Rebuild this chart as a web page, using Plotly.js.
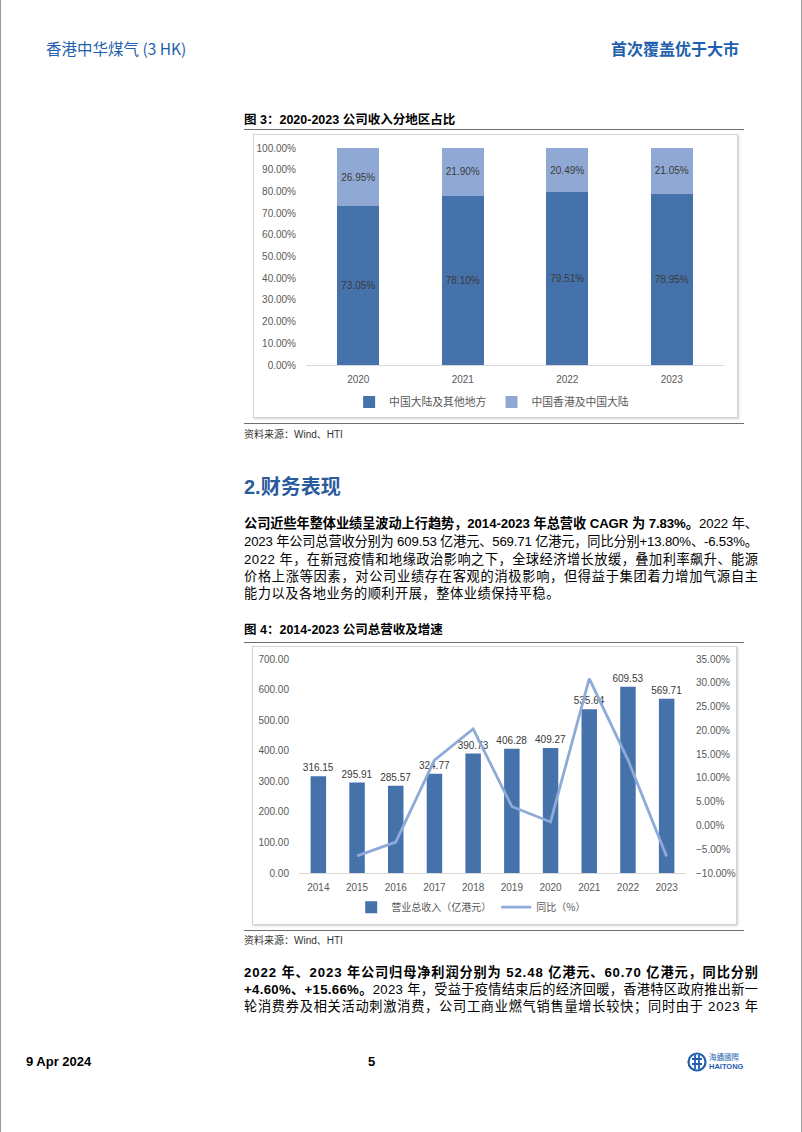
<!DOCTYPE html>
<html><head><meta charset="utf-8">
<script src="https://cdn.plot.ly/plotly-3.0.1.min.js"></script>
<style>
html,body{margin:0;padding:0;background:#fff;}
#page{position:relative;width:802px;height:1132px;overflow:hidden;box-sizing:border-box;border-left:1px solid #9a9a9a;border-right:1px solid #9a9a9a;background:#fff;
  font-family:"Liberation Sans","Noto Sans CJK SC",sans-serif;color:#000;}
.abs{position:absolute;white-space:nowrap;}
.rule{position:absolute;height:1px;background:#6e6e6e;}
.frame{position:absolute;border:1px solid #d4d4d4;box-shadow:1px 1px 2px #cfcfcf;box-sizing:border-box;pointer-events:none;}
.ln{position:absolute;left:243px;white-space:nowrap;font-size:13.2px;line-height:14px;height:14px;}
.ln b{font-weight:bold;}
.cap{font-size:12.5px;font-weight:bold;line-height:14px;}
.src{font-size:10px;line-height:12px;color:#333;}
</style></head>
<body>
<div id="page">
  <div class="abs" style="left:45px;top:40px;font-size:15.5px;line-height:16px;color:#1f5fae;font-family:'Noto Sans CJK SC','Liberation Sans';">香港中华煤气 (3 HK)</div>
  <div class="abs" style="right:62px;top:40px;font-size:16px;line-height:16px;color:#1f5fae;font-weight:bold;font-family:'Noto Sans CJK SC';">首次覆盖优于大市</div>

  <div class="abs cap" style="left:243px;top:113px;">图 3：2020-2023 公司收入分地区占比</div>
  <div class="rule" style="left:243px;top:129px;width:500px;"></div>
  <div id="chart1" class="abs" style="left:252px;top:134px;width:485px;height:284px;"></div>
  <div class="frame" style="left:252px;top:134px;width:485px;height:284px;"></div>
  <div class="rule" style="left:243px;top:423px;width:500px;"></div>
  <div class="abs src" style="left:243px;top:429px;">资料来源：Wind、HTI</div>

  <div class="abs" style="left:243px;top:475px;font-size:20px;line-height:24px;font-weight:bold;color:#2a5b9c;font-family:'Liberation Sans','Noto Sans CJK SC';">2.财务表现</div>

  <div class="ln fit" style="top:517px;"><b>公司近些年整体业绩呈波动上行趋势，2014-2023 年总营收 CAGR 为 7.83%。</b>2022 年、</div>
  <div class="ln fit" style="top:535px;">2023 年公司总营收分别为 609.53 亿港元、569.71 亿港元，同比分别+13.80%、-6.53%。</div>
  <div class="ln fit" style="top:553px;">2022 年，在新冠疫情和地缘政治影响之下，全球经济增长放缓，叠加利率飙升、能源</div>
  <div class="ln fit" style="top:570px;">价格上涨等因素，对公司业绩存在客观的消极影响，但得益于集团着力增加气源自主</div>
  <div class="ln fitlast" style="top:587px;">能力以及各地业务的顺利开展，整体业绩保持平稳。</div>

  <div class="abs cap" style="left:243px;top:623px;">图 4：2014-2023 公司总营收及增速</div>
  <div class="rule" style="left:243px;top:642px;width:500px;"></div>
  <div id="chart2" class="abs" style="left:251px;top:646px;width:485px;height:279px;"></div>
  <div class="frame" style="left:251px;top:646px;width:485px;height:279px;"></div>
  <div class="rule" style="left:243px;top:930px;width:500px;"></div>
  <div class="abs src" style="left:243px;top:935px;">资料来源：Wind、HTI</div>

  <div class="ln fit" style="top:966px;"><b>2022 年、2023 年公司归母净利润分别为 52.48 亿港元、60.70 亿港元，同比分别</b></div>
  <div class="ln fit" style="top:983px;"><b>+4.60%、+15.66%。</b>2023 年，受益于疫情结束后的经济回暖，香港特区政府推出新一</div>
  <div class="ln fit" style="top:1000px;">轮消费券及相关活动刺激消费，公司工商业燃气销售量增长较快；同时由于 2023 年</div>

  <div class="abs" style="left:25px;top:1055px;font-size:13px;line-height:14px;font-weight:bold;">9 Apr 2024</div>
  <div class="abs" style="left:367px;top:1055px;font-size:13px;line-height:14px;font-weight:bold;">5</div>
  <svg class="abs" style="left:686px;top:1051px;" width="62" height="22" viewBox="0 0 62 22">
    <circle cx="10" cy="11" r="8.5" fill="none" stroke="#1f5fae" stroke-width="2.2"/>
    <path d="M5 8 H15 M5 13 H15 M8 4 V18 M12 4 V18" stroke="#1f5fae" stroke-width="1.8" fill="none"/>
    <text x="22" y="9" font-size="7.5" fill="#1f5fae" font-family="Noto Sans CJK TC">海通國際</text>
    <text x="22" y="18" font-size="7.5" font-weight="bold" fill="#1f5fae" font-family="Liberation Sans">HAITONG</text>
  </svg>
</div>

<script>
// ---------- Data ----------
const regionYears = ['2020', '2021', '2022', '2023'];
const mainlandShare = [73.05, 78.10, 79.51, 78.95];
const hkShare = [26.95, 21.90, 20.49, 21.05];
const regionNames = ['中国大陆及其他地方', '中国香港及中国大陆'];

const revYears = ['2014', '2015', '2016', '2017', '2018', '2019', '2020', '2021', '2022', '2023'];
const revenue = [316.15, 295.91, 285.57, 324.77, 390.73, 406.28, 409.27, 535.64, 609.53, 569.71];
const yoyYears = ['2015', '2016', '2017', '2018', '2019', '2020', '2021', '2022', '2023'];
const yoy = [-6.40, -3.49, 13.73, 20.31, 3.98, 0.74, 30.88, 13.80, -6.53];
const revNames = ['营业总收入（亿港元）', '同比（%）'];

// ---------- Styles ----------
const DARK = '#4672ab';
const LIGHT = '#8fa9d4';
const LINEC = '#8eaad6';
const FONT = 'Liberation Sans, Noto Sans CJK SC, sans-serif';
const CJK = 'Noto Sans CJK SC, sans-serif';

// ---------- Chart 1 ----------
Plotly.newPlot('chart1', [
  {type: 'bar', name: regionNames[0], x: regionYears, y: mainlandShare, marker: {color: DARK},
   texttemplate: '%{y:.2f}%', textposition: 'inside', insidetextanchor: 'middle', constraintext: 'none',
   textangle: 0, textfont: {color: '#3a3a3a', size: 10, family: FONT}, hoverinfo: 'none'},
  {type: 'bar', name: regionNames[1], x: regionYears, y: hkShare, marker: {color: LIGHT},
   texttemplate: '%{y:.2f}%', textposition: 'inside', insidetextanchor: 'middle', constraintext: 'none',
   textangle: 0, textfont: {color: '#3a3a3a', size: 10, family: FONT}, hoverinfo: 'none'}
], {
  width: 485, height: 284, margin: {l: 53, r: 14, t: 14, b: 53, autoexpand: false},
  paper_bgcolor: 'rgba(0,0,0,0)', plot_bgcolor: 'rgba(0,0,0,0)',
  barmode: 'stack', bargap: 0.6,
  font: {family: FONT, size: 10, color: '#595959'},
  xaxis: {type: 'category', showline: true, linecolor: '#d9d9d9', linewidth: 1, showgrid: false,
          ticks: '', ticklabelstandoff: 5, tickfont: {size: 10, color: '#595959'}, automargin: false},
  yaxis: {range: [0, 100], tick0: 0, dtick: 10, tickformat: '.2f', ticksuffix: '%', showgrid: false,
          zeroline: false, showline: false, ticks: '', ticklabelstandoff: 9, tickfont: {size: 10, color: '#595959'},
          automargin: false},
  showlegend: true,
  legend: {orientation: 'h', xref: 'container', yref: 'container', x: 0.492, xanchor: 'center',
           y: 0.056, yanchor: 'middle', traceorder: 'normal',
           font: {family: CJK, size: 10.8, color: '#595959'}, itemwidth: 30}
}, {staticPlot: true});

// ---------- Chart 2 ----------
Plotly.newPlot('chart2', [
  {type: 'bar', name: revNames[0], x: revYears, y: revenue, marker: {color: DARK},
   texttemplate: '%{y:.2f}', textposition: 'outside', cliponaxis: false, constraintext: 'none',
   textfont: {color: '#3a3a3a', size: 10, family: FONT}, hoverinfo: 'none'},
  {type: 'scatter', mode: 'lines', name: revNames[1], x: yoyYears, y: yoy, yaxis: 'y2',
   line: {color: LINEC, width: 2.8}, hoverinfo: 'none'}
], {
  width: 485, height: 279, margin: {l: 46.5, r: 50.5, t: 13, b: 52, autoexpand: false},
  paper_bgcolor: 'rgba(0,0,0,0)', plot_bgcolor: 'rgba(0,0,0,0)',
  bargap: 0.6,
  font: {family: FONT, size: 10, color: '#595959'},
  xaxis: {type: 'category', categoryorder: 'array', categoryarray: revYears, showline: true, linecolor: '#d9d9d9',
          linewidth: 1, showgrid: false, ticks: '', ticklabelstandoff: 5, tickfont: {size: 10, color: '#595959'},
          automargin: false},
  yaxis: {range: [0, 700], tick0: 0, dtick: 100, tickformat: '.2f', showgrid: false, zeroline: false,
          showline: false, ticks: '', ticklabelstandoff: 9, tickfont: {size: 10, color: '#595959'}, automargin: false},
  yaxis2: {range: [-10, 35], tick0: -10, dtick: 5, tickformat: '.2f', ticksuffix: '%', overlaying: 'y', side: 'right',
           showgrid: false, zeroline: false, showline: false, ticks: '', ticklabelstandoff: 9,
           tickfont: {size: 10, color: '#595959'}, automargin: false},
  showlegend: true,
  legend: {orientation: 'h', xref: 'container', yref: 'container', x: 0.452, xanchor: 'center',
           y: 0.064, yanchor: 'middle', traceorder: 'normal',
           font: {family: CJK, size: 10, color: '#595959'}, itemwidth: 30}
}, {staticPlot: true});

// ---------- Justify body text lines ----------
function fitLines() {
  const W = 514;
  document.querySelectorAll('.fit').forEach(el => {
    el.style.letterSpacing = '0px';
    const w = el.getBoundingClientRect().width;
    const n = el.textContent.length;
    if (n > 1) el.style.letterSpacing = ((W - w) / (n - 1)) + 'px';
  });
  document.querySelectorAll('.fitlast').forEach(el => {
    el.style.letterSpacing = '0.55px';
  });
}
if (document.fonts && document.fonts.ready) { document.fonts.ready.then(fitLines); } else { fitLines(); }
fitLines();
</script>
</body></html>
